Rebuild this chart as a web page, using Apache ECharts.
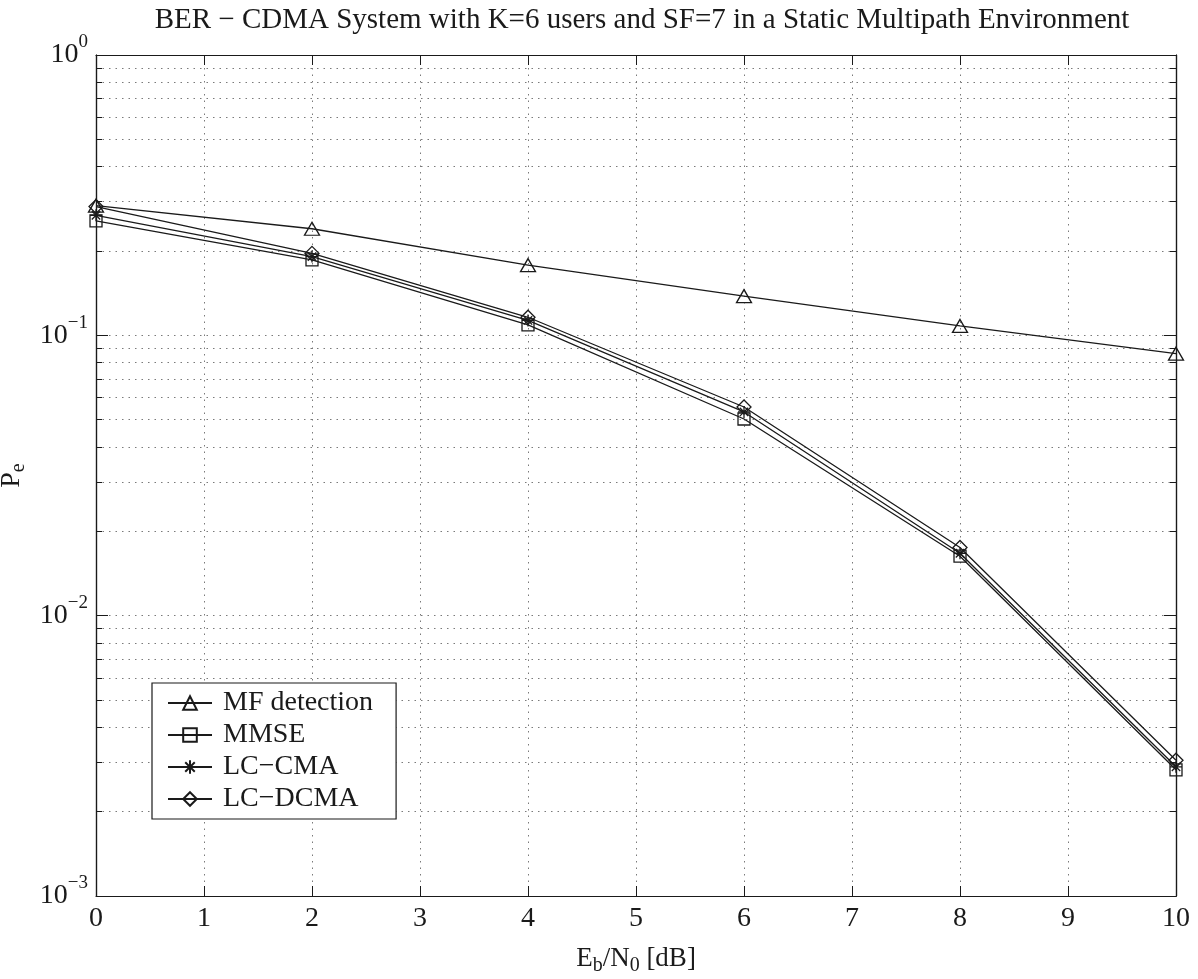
<!DOCTYPE html>
<html>
<head>
<meta charset="utf-8">
<script src="https://cdn.jsdelivr.net/npm/echarts@6/dist/echarts.min.js"></script>
<style>
  html, body { margin: 0; padding: 0; background: #fff; }
  #chart { width: 1198px; height: 979px; }
</style>
</head>
<body>
<div id="chart"></div>
<script>
// ---- data ----
const titleText = 'BER − CDMA System with K=6 users and SF=7 in a Static Multipath Environment';
const seriesNames = ['MF detection', 'MMSE', 'LC−CMA', 'LC−DCMA'];
const ebN0 = [0, 2, 4, 6, 8, 10];
const mfDetection = [0.29, 0.24, 0.178, 0.138, 0.108, 0.086];
const mmse = [0.256, 0.186, 0.109, 0.0503, 0.0163, 0.00282];
const lcCma = [0.268, 0.191, 0.113, 0.0533, 0.0167, 0.00289];
const lcDcma = [0.288, 0.196, 0.116, 0.0555, 0.0175, 0.00305];
const yMajorTicks = [0.001, 0.01, 0.1, 1];
const yMajorLabels = ['−3', '−2', '−1', '0'];
const yMinorMultipliers = [2, 3, 4, 5, 6, 7, 8, 9];

// ---- helpers ----
const FONT = '"Liberation Serif", "DejaVu Serif", serif';
const INK = '#1a1a1a';
const minorTicks = [];
[0.001, 0.01, 0.1].forEach(d => yMinorMultipliers.forEach(k => minorTicks.push(+(k * d).toPrecision(3))));
const pairs = arr => ebN0.map((x, i) => [x, arr[i]]);

const gridLine = { show: true, lineStyle: { color: '#7a7a7a', width: 1, type: [1.5, 5] } };
const yLabelRich = {
  b: { fontFamily: FONT, fontSize: 28, color: INK, lineHeight: 44, verticalAlign: 'middle' },
  s: { fontFamily: FONT, fontSize: 19, color: INK, lineHeight: 19, verticalAlign: 'top' }
};

const sym = {
  tri: 'triangle',
  sq: 'rect',
  star: 'path://M5,0L5,10M0,5L10,5M1.5,1.5L8.5,8.5M1.5,8.5L8.5,1.5',
  dia: 'path://M5,0L10,5L5,10L0,5Z'
};

function mkSeries(name, data, symbol, size) {
  return {
    name, type: 'line', data: pairs(data), xAxisIndex: 0, yAxisIndex: 0,
    symbol, symbolSize: size, showAllSymbol: true,
    color: INK,
    lineStyle: { color: INK, width: 1.3 },
    itemStyle: { color: 'rgba(255,255,255,0)', borderColor: INK, borderWidth: 1.3 },
    emphasis: { disabled: true },
    animation: false, z: 3
  };
}

const yBase = {
  type: 'log', logBase: 10, min: 0.001, max: 1,
  axisLine: { show: true, onZero: false, lineStyle: { color: INK, width: 1.2 } }
};

const option = {
  animation: false,
  backgroundColor: '#fff',
  title: {
    text: titleText, left: 637, top: 1, textAlign: 'center',
    textStyle: { fontFamily: FONT, fontSize: 29, fontWeight: 'normal', color: INK }
  },
  grid: { left: 96, right: 22, top: 55, bottom: 83, containLabel: false, outerBoundsMode: 'none' },
  legend: {
    orient: 'vertical', left: 152, top: 683,
    padding: [6, 23, 6, 15], itemGap: 4, itemWidth: 44, itemHeight: 17,
    backgroundColor: '#fff', borderColor: INK, borderWidth: 1.2, borderRadius: 0,
    textStyle: { fontFamily: FONT, fontSize: 28, color: INK, lineHeight: 28, padding: [0, 0, 0, 6] },
    data: seriesNames
  },
  xAxis: [
    {
      type: 'value', min: 0, max: 10, interval: 1, position: 'bottom',
      axisLine: { show: true, onZero: false, lineStyle: { color: INK, width: 1.2 } },
      axisTick: { show: true, inside: true, length: 10, lineStyle: { color: INK } },
      axisLabel: { fontFamily: FONT, fontSize: 28, color: INK, margin: 9 },
      splitLine: gridLine,
      name: '{b|E}{sub|b}{b|/N}{sub|0}{b| [dB]}',
      nameLocation: 'middle', nameGap: 46,
      nameTextStyle: {
        rich: {
          b: { fontFamily: FONT, fontSize: 27, color: INK, lineHeight: 34, verticalAlign: 'middle' },
          sub: { fontFamily: FONT, fontSize: 20, color: INK, lineHeight: 20, verticalAlign: 'bottom' }
        }
      }
    },
    {
      type: 'value', min: 0, max: 10, interval: 1, position: 'top',
      axisLine: { show: true, onZero: false, lineStyle: { color: INK, width: 1.2 } },
      axisTick: { show: true, inside: true, length: 10, lineStyle: { color: INK } },
      axisLabel: { show: false }, splitLine: { show: false }
    }
  ],
  yAxis: [
    Object.assign({}, yBase, {
      position: 'left',
      axisTick: { show: true, inside: true, length: 12, customValues: yMajorTicks, lineStyle: { color: INK } },
      axisLabel: {
        customValues: yMajorTicks, margin: 8,
        formatter: v => {
          const i = yMajorTicks.findIndex(t => Math.abs(t - v) / t < 1e-6);
          return '{b|10}{s|' + yMajorLabels[i] + '}';
        },
        rich: yLabelRich
      },
      splitLine: gridLine,
      name: '{b|P}{sub|e}', nameLocation: 'middle', nameGap: 59, nameRotate: 90,
      nameTextStyle: {
        rich: {
          b: { fontFamily: FONT, fontSize: 28, color: INK, lineHeight: 34, verticalAlign: 'middle' },
          sub: { fontFamily: FONT, fontSize: 20, color: INK, lineHeight: 20, verticalAlign: 'bottom' }
        }
      }
    }),
    Object.assign({}, yBase, {
      position: 'left',
      axisTick: { show: true, inside: true, length: 6, customValues: minorTicks, lineStyle: { color: INK } },
      axisLabel: { show: false },
      splitLine: gridLine
    }),
    Object.assign({}, yBase, {
      position: 'right',
      axisTick: { show: true, inside: true, length: 12, customValues: yMajorTicks, lineStyle: { color: INK } },
      axisLabel: { show: false }, splitLine: { show: false }
    }),
    Object.assign({}, yBase, {
      position: 'right',
      axisTick: { show: true, inside: true, length: 6, customValues: minorTicks, lineStyle: { color: INK } },
      axisLabel: { show: false }, splitLine: { show: false }
    })
  ],
  series: [
    mkSeries(seriesNames[0], mfDetection, sym.tri, [15, 13]),
    mkSeries(seriesNames[1], mmse, sym.sq, [12, 12]),
    mkSeries(seriesNames[2], lcCma, sym.star, [12, 12]),
    mkSeries(seriesNames[3], lcDcma, sym.dia, [14, 14])
  ]
};

const chart = echarts.init(document.getElementById('chart'), null, { renderer: 'canvas' });
chart.setOption(option);
</script>
</body>
</html>
